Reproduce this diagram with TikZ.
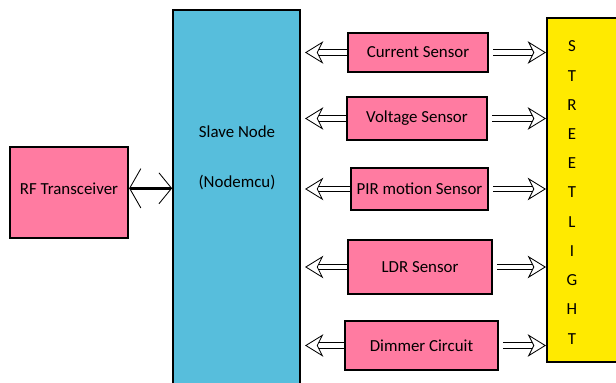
\documentclass[tikz,border=0pt]{standalone}
\usepackage{fontspec}
\setmainfont{Carlito}
\usetikzlibrary{arrows.meta}
\definecolor{pinkbox}{HTML}{FF7BA1}
\definecolor{bluebox}{HTML}{57BEDC}
\definecolor{yellowbox}{HTML}{FFEA00}
\tikzset{% This is the style settings for boxes and arrows
    b/.style={rectangle, draw=black, line width=1.6pt, fill=pinkbox, inner sep=0pt, font=\fontsize{12}{14}\selectfont},
    e/.style={double, double distance=3.5pt, line width=0.6pt,
        -{Stealth[open, fill=white, line width=0.6pt, length=13pt, width=16pt, inset=4pt]}},
    rf/.style={line width=2pt,
        {Straight Barb[line width=0.6pt, length=8pt, width=28pt]}-{Straight Barb[line width=0.6pt, length=9pt, width=22pt]}}}

\begin{document}
\begin{tikzpicture}
    \useasboundingbox (0,0) rectangle (15.4,9.575);

    \node[b, minimum width=2.95cm, minimum height=2.275cm] (rfbox) at (1.725,4.7625) {\raisebox{6pt}{RF Transceiver}};
    \node[rectangle, draw=black, line width=1.2pt, fill=bluebox, minimum width=3.175cm, minimum height=9.825cm] (slave) at (5.9125,4.4125) {};
    \node[align=center, font=\fontsize{12}{14}\selectfont] (slavetxt) at (5.925,5.625) {Slave Node\\[21.5pt](Nodemcu)};
    \node[rectangle, draw=black, line width=1.6pt, fill=yellowbox, minimum width=2.325cm, minimum height=8.6cm] (light) at (14.84,4.825) {};
    \node[align=center, font=\fontsize{12}{20.8}\selectfont] (lighttxt) at (14.3,4.7625) {S\\T\\R\\E\\E\\T\\L\\I\\G\\H\\T};

    \node[b, minimum width=3.5cm, minimum height=0.975cm] (cur) at (10.45,8.2625) {Current Sensor};
    \node[b, minimum width=3.5cm, minimum height=1.075cm] (volt) at (10.425,6.6125) {Voltage Sensor};
    \node[b, minimum width=3.425cm, minimum height=1.05cm] (pir) at (10.4875,4.85) {PIR motion Sensor};
    \node[b, minimum width=3.6cm, minimum height=1.35cm] (ldr) at (10.5,2.9) {LDR Sensor};
    \node[b, minimum width=3.825cm, minimum height=1.225cm] (dim) at (10.5375,0.9375) {Dimmer Circuit};

    \draw[rf] ([yshift=3pt]rfbox.east) -- ([yshift=3pt]rfbox.east -| slave.west);

    \draw[e, shorten >=3pt] (cur.west) -- (cur.west -| slave.east);
    \draw[e, shorten >=3pt] (volt.west) -- (volt.west -| slave.east);
    \draw[e, shorten >=3pt] (pir.west) -- (pir.west -| slave.east);
    \draw[e, shorten >=3pt] (ldr.west) -- (ldr.west -| slave.east);
    \draw[e, shorten >=3pt] (dim.west) -- (dim.west -| slave.east);

    \draw[e, shorten <=3pt] (cur.east) -- (cur.east -| light.west);
    \draw[e, shorten <=3pt] (volt.east) -- (volt.east -| light.west);
    \draw[e, shorten <=3pt] (pir.east) -- (pir.east -| light.west);
    \draw[e, shorten <=3pt] (ldr.east) -- (ldr.east -| light.west);
    \draw[e, shorten <=3pt] (dim.east) -- (dim.east -| light.west);
  \end{tikzpicture}
\end{document}
